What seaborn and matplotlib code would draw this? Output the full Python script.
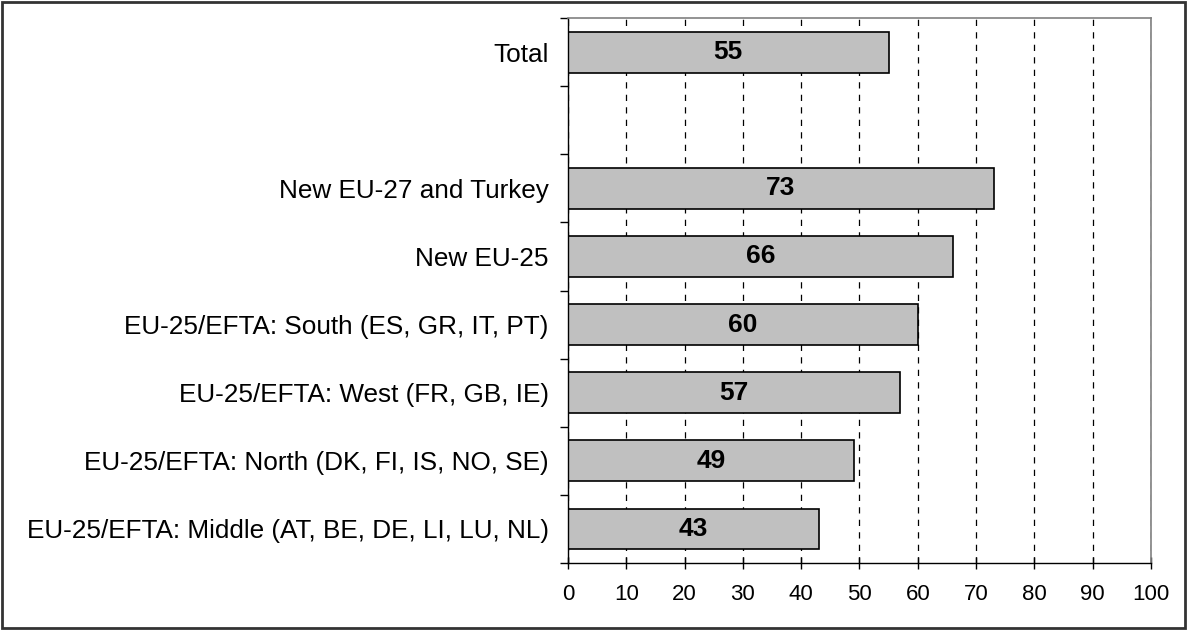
import numpy as np
import pandas as pd
import matplotlib
matplotlib.use("Agg")
import matplotlib.pyplot as plt
from matplotlib.patches import Rectangle
import seaborn as sns

# data
groups = [
    "Total",
    "New EU-27 and Turkey",
    "New EU-25",
    "EU-25/EFTA: South (ES, GR, IT, PT)",
    "EU-25/EFTA: West (FR, GB, IE)",
    "EU-25/EFTA: North (DK, FI, IS, NO, SE)",
    "EU-25/EFTA: Middle (AT, BE, DE, LI, LU, NL)",
]
values = [55, 73, 66, 60, 57, 49, 43]
# an empty slot separates Total from the regions
order = [groups[0], " "] + groups[1:]
x_ticks = list(range(0, 101, 10))

sns.set_theme(style="white")
plt.rcParams["font.family"] = ["Liberation Sans", "DejaVu Sans"]

df = pd.DataFrame({"group": groups, "value": values})

fig = plt.figure(figsize=(11.89, 6.30), dpi=100)
ax = fig.add_axes([0.4777, 0.1063, 0.968 - 0.4777, 0.9714 - 0.1063])

sns.barplot(data=df, x="value", y="group", order=order, orient="h",
            color="#C0C0C0", saturation=1, width=0.6,
            edgecolor="black", linewidth=1.2, ax=ax)

for c in ax.containers:
    ax.bar_label(c, label_type="center", fontsize=19, fontweight="bold",
                 color="black")

ax.set_xlim(0, 100)
ax.set_ylim(len(order) - 0.5, -0.5)
ax.set_xticks(x_ticks)
ax.set_xticklabels([str(t) for t in x_ticks], fontsize=16)
ax.set_yticks(range(len(order)))
ax.set_yticklabels(order, fontsize=18.8)
ax.set_yticks(np.arange(-0.5, len(order)), minor=True)
ax.tick_params(axis="y", which="major", length=0, pad=14, colors="black")
ax.tick_params(axis="y", which="minor", length=6, width=1, direction="out",
               color="black", left=True)
ax.tick_params(axis="x", which="major", length=8, width=1, direction="inout",
               pad=11, colors="black", bottom=True)
ax.set_xlabel("")
ax.set_ylabel("")

ax.set_axisbelow(True)
ax.grid(axis="x", color="black", linestyle=(0, (5, 5)), linewidth=0.9)

for side in ["left", "bottom"]:
    ax.spines[side].set_color("black")
    ax.spines[side].set_linewidth(1)
for side in ["top", "right"]:
    ax.spines[side].set_color("#808080")
    ax.spines[side].set_linewidth(1.2)

fig.patches.append(Rectangle((0.002, 0.003), 0.995, 0.994,
                             transform=fig.transFigure, fill=False,
                             edgecolor="#333333", linewidth=2))

fig.savefig("out.png", dpi=100)
